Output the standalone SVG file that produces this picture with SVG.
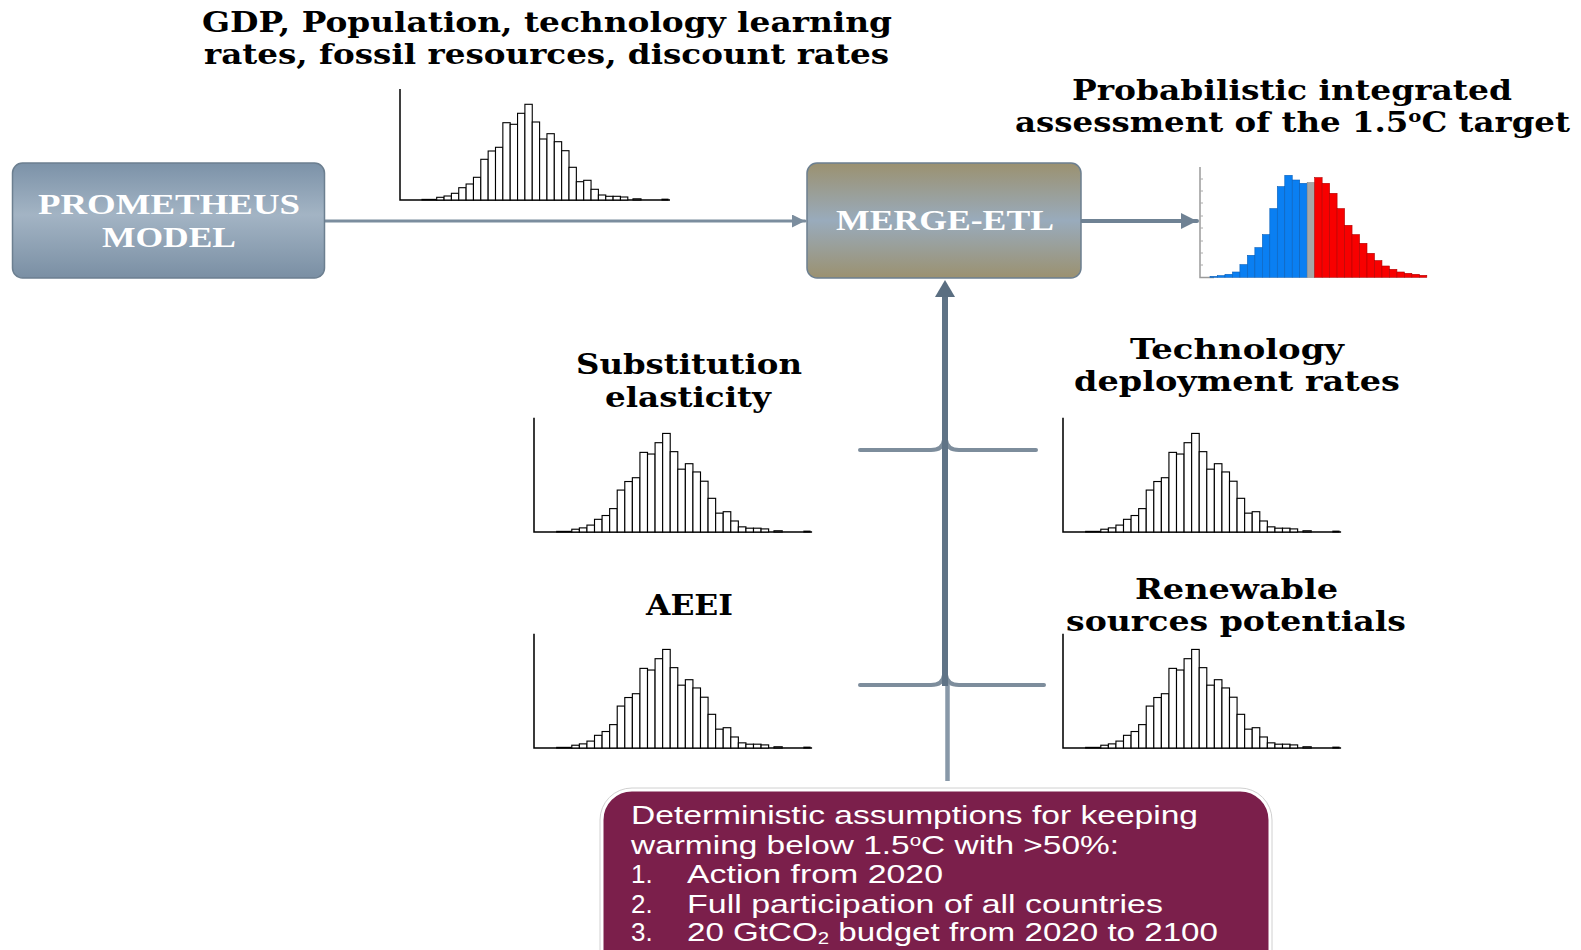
<svg xmlns="http://www.w3.org/2000/svg" xmlns:xlink="http://www.w3.org/1999/xlink" width="1581" height="950" viewBox="0 0 1581 950">
<style>
.hd{font-family:"DejaVu Serif","Liberation Serif",serif;font-weight:bold;font-size:28px;fill:#000}
.bx{font-family:"Liberation Serif","DejaVu Serif",serif;font-weight:bold;font-size:30px;fill:#fff}
.as{font-family:"Liberation Sans","Open Sans",sans-serif;font-size:26px;fill:#fff}
.hb rect{fill:#fff;stroke:#000;stroke-width:1.1}
.b{fill:#0a7ff2;stroke:#0a5fb8;stroke-width:0.6}
.r{fill:#f80000;stroke:#b00000;stroke-width:0.6}
.g{fill:#a6a6a6;stroke:#888;stroke-width:0.6}
.con{fill:none;stroke-linecap:round}
</style>
<defs>
<linearGradient id="gProm" x1="0" y1="0" x2="0" y2="1">
<stop offset="0" stop-color="#7c92a8"/>
<stop offset="0.45" stop-color="#a3b4c4"/>
<stop offset="1" stop-color="#7a8fa4"/>
</linearGradient>
<linearGradient id="gMerge" x1="0" y1="0" x2="0" y2="1">
<stop offset="0" stop-color="#9b9170"/>
<stop offset="0.5" stop-color="#99abbc"/>
<stop offset="1" stop-color="#9b9170"/>
</linearGradient>
<marker id="arr" viewBox="0 0 10 10" refX="10" refY="5" markerWidth="13" markerHeight="13" markerUnits="userSpaceOnUse" orient="auto"><path d="M0,0 L10,5 L0,10 z" fill="#7b8d9e"/></marker>
<marker id="arr2" viewBox="0 0 10 10" refX="10" refY="5" markerWidth="17" markerHeight="16" markerUnits="userSpaceOnUse" orient="auto"><path d="M0,0 L10,5 L0,10 z" fill="#6f8294"/></marker>
<g id="hist">
<path d="M0,-111 V0 H270" fill="none" stroke="#000" stroke-width="1.5"/>
<g class="hb">
<rect x="22" y="-0.6" width="14.7" height="0.6"/>
<rect x="36.70" y="-2.7" width="7.35" height="2.7"/>
<rect x="44.05" y="-4" width="7.35" height="4"/>
<rect x="51.40" y="-6.7" width="7.35" height="6.7"/>
<rect x="58.75" y="-12.3" width="7.35" height="12.3"/>
<rect x="66.10" y="-16" width="7.35" height="16"/>
<rect x="73.45" y="-22.7" width="7.35" height="22.7"/>
<rect x="80.80" y="-40.7" width="7.35" height="40.7"/>
<rect x="88.15" y="-49" width="7.35" height="49"/>
<rect x="95.50" y="-52.7" width="7.35" height="52.7"/>
<rect x="102.85" y="-77.3" width="7.35" height="77.3"/>
<rect x="110.20" y="-75.7" width="7.35" height="75.7"/>
<rect x="117.55" y="-86.7" width="7.35" height="86.7"/>
<rect x="124.90" y="-95.7" width="7.35" height="95.7"/>
<rect x="132.25" y="-78" width="7.35" height="78"/>
<rect x="139.60" y="-61" width="7.35" height="61"/>
<rect x="146.95" y="-66.3" width="7.35" height="66.3"/>
<rect x="154.30" y="-58.3" width="7.35" height="58.3"/>
<rect x="161.65" y="-49.3" width="7.35" height="49.3"/>
<rect x="169.00" y="-32.7" width="7.35" height="32.7"/>
<rect x="176.35" y="-18.3" width="7.35" height="18.3"/>
<rect x="183.70" y="-19.7" width="7.35" height="19.7"/>
<rect x="191.05" y="-10.7" width="7.35" height="10.7"/>
<rect x="198.40" y="-5" width="7.35" height="5"/>
<rect x="205.75" y="-3.7" width="7.35" height="3.7"/>
<rect x="213.10" y="-3.7" width="7.35" height="3.7"/>
<rect x="220.45" y="-3" width="7.35" height="3"/>
<rect x="233" y="-1.2" width="8" height="1.2"/>
<rect x="262" y="-0.8" width="6" height="0.8"/>
</g>
</g>
</defs>
<rect width="1581" height="950" fill="#fff"/>

<g id="connectors">
<path class="con" d="M325,221 H805" stroke="#7b8d9e" stroke-width="3" marker-end="url(#arr)"/>
<path class="con" d="M1082,221 H1197" stroke="#6f8294" stroke-width="4" marker-end="url(#arr2)"/>
<path class="con" d="M860,450 H931 Q943,450 944,440 M946,440 Q947,450 959,450 H1036" stroke="#7d8d9c" stroke-width="4"/>
<path class="con" d="M860,685 H931 Q943,685 944,675 M946,675 Q947,685 959,685 H1044" stroke="#7d8d9c" stroke-width="4"/>
<path d="M947.5,781 V684" stroke="#8898a8" stroke-width="4.5" fill="none"/>
<path d="M945,686 V294" stroke="#5f7386" stroke-width="6" fill="none"/>
<polygon points="945,280 935,297 955,297" fill="#5a6e81"/>
</g>

<g id="prometheus">
<rect x="12.5" y="163" width="312" height="115" rx="10" fill="url(#gProm)" stroke="#6c7f90" stroke-width="1.5"/>
<text class="bx" x="38" y="214" textLength="262" lengthAdjust="spacingAndGlyphs">PROMETHEUS</text>
<text class="bx" x="102" y="247" textLength="134" lengthAdjust="spacingAndGlyphs">MODEL</text>
</g>

<g id="merge-etl">
<rect x="807" y="163" width="274" height="115" rx="10" fill="url(#gMerge)" stroke="#6c7f90" stroke-width="1.5"/>
<text class="bx" x="836" y="230" textLength="218" lengthAdjust="spacingAndGlyphs">MERGE-ETL</text>
</g>

<g id="input-top">
<text class="hd" x="202" y="32" textLength="690" lengthAdjust="spacingAndGlyphs">GDP, Population, technology learning</text>
<text class="hd" x="204" y="64" textLength="685" lengthAdjust="spacingAndGlyphs">rates, fossil resources, discount rates</text>
<use xlink:href="#hist" href="#hist" transform="translate(400,200)"/>
</g>

<g id="output">
<text class="hd" x="1072" y="100" textLength="440" lengthAdjust="spacingAndGlyphs">Probabilistic integrated</text>
<text class="hd" x="1015" y="132" textLength="555" lengthAdjust="spacingAndGlyphs">assessment of the 1.5<tspan font-size="17" baseline-shift="super">o</tspan>C target</text>
<path d="M1200,167 V277.5 H1214" fill="none" stroke="#9a9a9a" stroke-width="1.5"/>
<path d="M1200,179 h3 M1200,191 h3 M1200,203 h3 M1200,216 h3 M1200,228 h3 M1200,241 h3 M1200,253 h3 M1200,265 h3" stroke="#aaa" stroke-width="1"/>
<g transform="translate(1210,0) scale(0.985,1) translate(-1210,0)">
<rect class="b" x="1210.00" y="276.3" width="7.59" height="1"/>
<rect class="b" x="1217.59" y="275.6" width="7.59" height="1.7"/>
<rect class="b" x="1225.18" y="274.3" width="7.59" height="3"/>
<rect class="b" x="1232.77" y="272.0" width="7.59" height="5.3"/>
<rect class="b" x="1240.36" y="264.6" width="7.59" height="12.7"/>
<rect class="b" x="1247.95" y="255.3" width="7.59" height="22"/>
<rect class="b" x="1255.54" y="247.6" width="7.59" height="29.7"/>
<rect class="b" x="1263.13" y="234.6" width="7.59" height="42.7"/>
<rect class="b" x="1270.72" y="208.6" width="7.59" height="68.7"/>
<rect class="b" x="1278.31" y="186.6" width="7.59" height="90.7"/>
<rect class="b" x="1285.90" y="175.3" width="7.59" height="102"/>
<rect class="b" x="1293.49" y="180.0" width="7.59" height="97.3"/>
<rect class="b" x="1301.08" y="183.3" width="7.59" height="94"/>
<rect class="g" x="1308.67" y="182.6" width="7.59" height="94.7"/>
<rect class="r" x="1316.26" y="177.6" width="7.59" height="99.7"/>
<rect class="r" x="1323.85" y="183.3" width="7.59" height="94"/>
<rect class="r" x="1331.44" y="193.3" width="7.59" height="84"/>
<rect class="r" x="1339.03" y="208.6" width="7.59" height="68.7"/>
<rect class="r" x="1346.62" y="225.3" width="7.59" height="52"/>
<rect class="r" x="1354.21" y="234.6" width="7.59" height="42.7"/>
<rect class="r" x="1361.80" y="243.3" width="7.59" height="34"/>
<rect class="r" x="1369.39" y="253.3" width="7.59" height="24"/>
<rect class="r" x="1376.98" y="260.6" width="7.59" height="16.7"/>
<rect class="r" x="1384.57" y="266.0" width="7.59" height="11.3"/>
<rect class="r" x="1392.16" y="269.3" width="7.59" height="8"/>
<rect class="r" x="1399.75" y="272.0" width="7.59" height="5.3"/>
<rect class="r" x="1407.34" y="273.3" width="7.59" height="4"/>
<rect class="r" x="1414.93" y="274.3" width="7.59" height="3"/>
<rect class="r" x="1422.52" y="275.3" width="7.59" height="2"/>
</g>
</g>

<g id="substitution-elasticity">
<text class="hd" x="576" y="374" textLength="226" lengthAdjust="spacingAndGlyphs">Substitution</text>
<text class="hd" x="605" y="407" textLength="166" lengthAdjust="spacingAndGlyphs">elasticity</text>
<use xlink:href="#hist" href="#hist" transform="translate(534,532) scale(1.03)"/>
</g>

<g id="aeei">
<text class="hd" x="646" y="615" textLength="87" lengthAdjust="spacingAndGlyphs">AEEI</text>
<use xlink:href="#hist" href="#hist" transform="translate(534,748) scale(1.03)"/>
</g>

<g id="technology-deployment">
<text class="hd" x="1130" y="359" textLength="214" lengthAdjust="spacingAndGlyphs">Technology</text>
<text class="hd" x="1074" y="391" textLength="326" lengthAdjust="spacingAndGlyphs">deployment rates</text>
<use xlink:href="#hist" href="#hist" transform="translate(1063,532) scale(1.03)"/>
</g>

<g id="renewable-potentials">
<text class="hd" x="1135" y="599" textLength="203" lengthAdjust="spacingAndGlyphs">Renewable</text>
<text class="hd" x="1066" y="631" textLength="340" lengthAdjust="spacingAndGlyphs">sources potentials</text>
<use xlink:href="#hist" href="#hist" transform="translate(1063,748) scale(1.03)"/>
</g>

<g id="assumptions">
<rect x="602" y="790" width="668" height="200" rx="30" fill="#7b1f4b" stroke="#fff" stroke-width="3"/>
<rect x="600" y="788" width="672" height="204" rx="32" fill="none" stroke="#d0d0d0" stroke-width="1"/>
<text class="as" x="631" y="824" textLength="567" lengthAdjust="spacingAndGlyphs">Deterministic assumptions for keeping</text>
<text class="as" x="631" y="854" textLength="488" lengthAdjust="spacingAndGlyphs">warming below 1.5<tspan font-size="16" baseline-shift="super">o</tspan>C with &gt;50%:</text>
<text class="as" x="631" y="883">1.</text>
<text class="as" x="687" y="883" textLength="256" lengthAdjust="spacingAndGlyphs">Action from 2020</text>
<text class="as" x="631" y="913">2.</text>
<text class="as" x="687" y="913" textLength="476" lengthAdjust="spacingAndGlyphs">Full participation of all countries</text>
<text class="as" x="631" y="941">3.</text>
<text class="as" x="687" y="941" textLength="531" lengthAdjust="spacingAndGlyphs">20 GtCO<tspan font-size="16" baseline-shift="-3">2</tspan> budget from 2020 to 2100</text>
</g>
</svg>
